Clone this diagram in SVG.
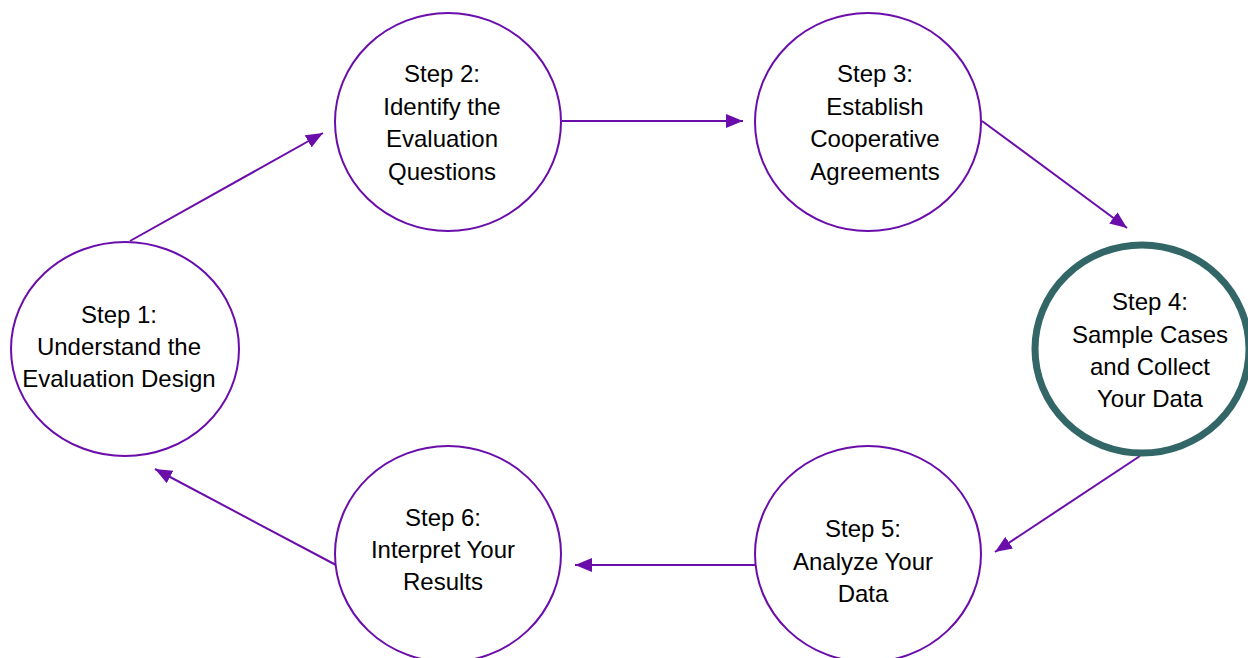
<svg xmlns="http://www.w3.org/2000/svg" width="1248" height="658" viewBox="0 0 1248 658">
<style>
.c{fill:#fff;stroke:#6a0dab;stroke-width:2}
.c4{fill:#fff;stroke:#336767;stroke-width:7}
.t{font-family:"Liberation Sans",Arial,sans-serif;font-size:24px;fill:#000;text-anchor:middle}
.a{stroke:#6a0dab;stroke-width:2;fill:none;marker-end:url(#ah)}
</style>
<defs>
<marker id="ah" markerUnits="userSpaceOnUse" markerWidth="18" markerHeight="14" refX="17" refY="7" orient="auto">
<path d="M0,0 L17,7 L0,14 z" fill="#6a0dab"/>
</marker>
</defs>
<g id="connectors">
<line class="a" x1="130" y1="241" x2="323" y2="133"/>
<line class="a" x1="562" y1="121" x2="743" y2="121"/>
<line class="a" x1="982" y1="121" x2="1127" y2="228"/>
<line class="a" x1="1140" y1="456" x2="995" y2="552"/>
<line class="a" x1="755" y1="565" x2="575" y2="565"/>
<line class="a" x1="336" y1="565" x2="155" y2="469"/>
</g>
<g id="step1">
<ellipse class="c" cx="125" cy="349" rx="114" ry="107"/>
<text class="t" x="119" y="323">Step 1:</text>
<text class="t" x="119" y="355">Understand the</text>
<text class="t" x="119" y="387">Evaluation Design</text>
</g>
<g id="step2">
<ellipse class="c" cx="448" cy="122" rx="113" ry="109"/>
<text class="t" x="442" y="82">Step 2:</text>
<text class="t" x="442" y="114.5">Identify the</text>
<text class="t" x="442" y="147">Evaluation</text>
<text class="t" x="442" y="179.5">Questions</text>
</g>
<g id="step3">
<ellipse class="c" cx="868" cy="122" rx="113" ry="109"/>
<text class="t" x="875" y="82">Step 3:</text>
<text class="t" x="875" y="114.5">Establish</text>
<text class="t" x="875" y="147">Cooperative</text>
<text class="t" x="875" y="179.5">Agreements</text>
</g>
<g id="step4">
<ellipse class="c4" cx="1142" cy="349" rx="107" ry="104"/>
<text class="t" x="1150" y="310">Step 4:</text>
<text class="t" x="1150" y="343">Sample Cases</text>
<text class="t" x="1150" y="375">and Collect</text>
<text class="t" x="1150" y="407">Your Data</text>
</g>
<g id="step5">
<ellipse class="c" cx="868" cy="554" rx="113" ry="108"/>
<text class="t" x="863" y="537">Step 5:</text>
<text class="t" x="863" y="570">Analyze Your</text>
<text class="t" x="863" y="602">Data</text>
</g>
<g id="step6">
<ellipse class="c" cx="448" cy="554" rx="113" ry="108"/>
<text class="t" x="443" y="526">Step 6:</text>
<text class="t" x="443" y="558">Interpret Your</text>
<text class="t" x="443" y="590">Results</text>
</g>
</svg>
